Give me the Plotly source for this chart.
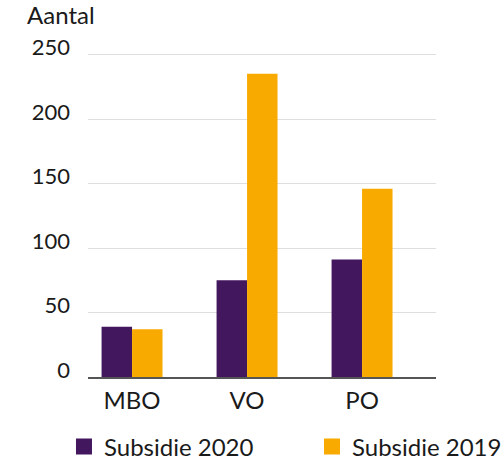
import plotly.graph_objects as go

categories = ["MBO", "VO", "PO"]
subsidie_2020 = [39, 75, 91]
subsidie_2019 = [37, 235, 146]
series_names = ["Subsidie 2020", "Subsidie 2019"]
y_ticks = [0, 50, 100, 150, 200, 250]

PURPLE = "#42175e"
YELLOW = "#f8aa00"
FONT = "Lato"
TXT = "#1a1a1a"
W, H = 503, 460

fig = go.Figure()
fig.add_trace(go.Bar(x=categories, y=subsidie_2020, marker_color=PURPLE,
                     marker_line_width=0, showlegend=False, name=series_names[0]))
fig.add_trace(go.Bar(x=categories, y=subsidie_2019, marker_color=YELLOW,
                     marker_line_width=0, showlegend=False, name=series_names[1]))
# legend entries (one legend per entry so they can be placed independently)
for nm, col, lg in zip(series_names, [PURPLE, YELLOW], ["legend", "legend2"]):
    fig.add_trace(go.Scatter(x=[None], y=[None], mode="markers", name=nm, legend=lg,
                             marker=dict(symbol="square", size=16, color=col)))

leg_common = dict(orientation="h", xref="paper", yref="paper",
                  yanchor="middle", y=-0.2137,
                  font=dict(family=FONT, size=24, color=TXT), bgcolor="rgba(0,0,0,0)")

fig.update_layout(
    width=W, height=H,
    margin=dict(l=88, r=67, t=50, b=83, autoexpand=False),
    paper_bgcolor="white", plot_bgcolor="white",
    barmode="group", bargap=0.47, bargroupgap=0,
    font=dict(family=FONT, size=22, color=TXT),
    showlegend=True,
    legend=dict(x=-0.069, xanchor="left", **leg_common),
    legend2=dict(x=0.6437, xanchor="left", **leg_common),
    title=dict(text="Aantal", xref="container", yref="container",
               x=27 / W, xanchor="left", y=0.985, yanchor="top",
               font=dict(family=FONT, size=24, color=TXT)),
    xaxis=dict(range=[-0.383, 2.643], showgrid=False, showline=True, automargin=False,
               linecolor="#555555", linewidth=1.5, ticks="", ticklabelstandoff=1,
               tickfont=dict(family=FONT, size=24, color=TXT), fixedrange=True),
    yaxis=dict(range=[0, 253.5], tickvals=y_ticks, showgrid=True, gridcolor="#dedede",
               gridwidth=1, zeroline=False, showline=False, ticks="", automargin=False,
               ticklabelstandoff=17, ticklabelshift=-7,
               tickfont=dict(family=FONT, size=22, color=TXT), fixedrange=True),
)

fig.write_html("out.html", config={"displayModeBar": False},
               post_script="document.body.style.margin='0px';")
